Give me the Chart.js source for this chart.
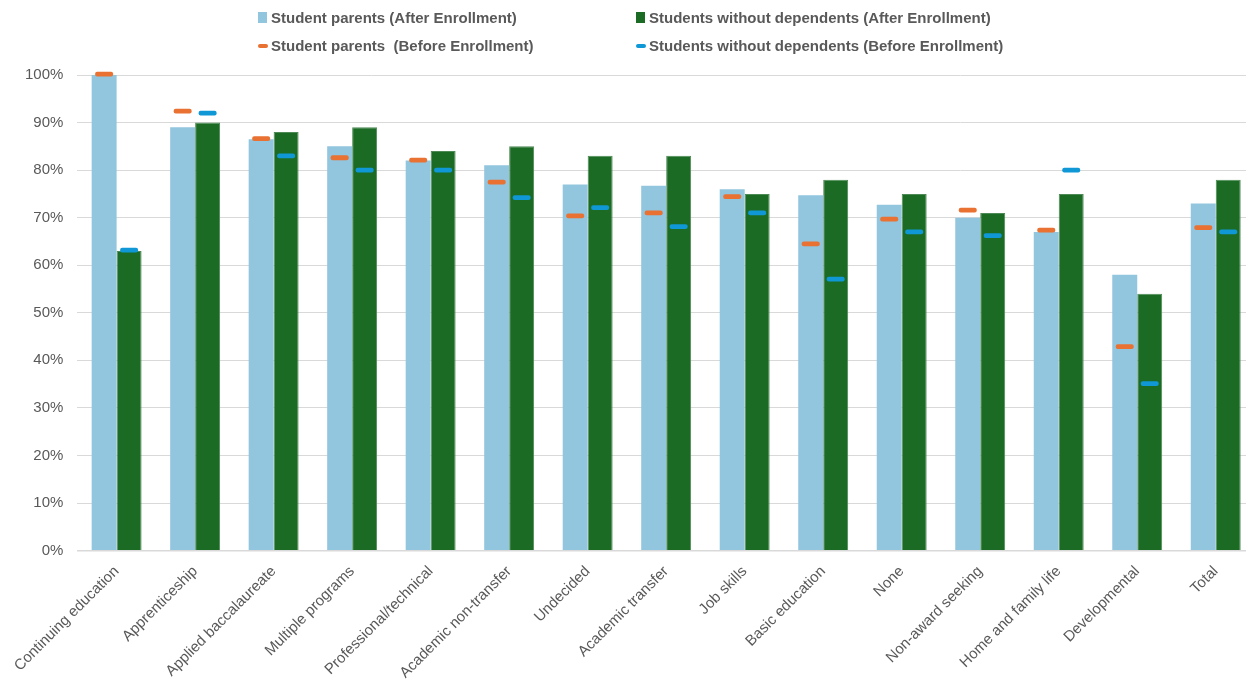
<!DOCTYPE html>
<html>
<head>
<meta charset="utf-8">
<script src="https://cdn.jsdelivr.net/npm/chart.js@4"></script>
<style>
  html, body { margin: 0; padding: 0; background: #fff; overflow: hidden; }
  #wrap { position: relative; width: 1262px; height: 684px; }
  .legend { position: absolute; font-family: "Liberation Sans Narrow", "Arial Narrow", "Liberation Sans", sans-serif; font-weight: bold; font-size: 15px; color: #595959; white-space: nowrap; }
  .legend span.box { position: absolute; left: 0; }
  .legend span.txt { position: absolute; left: 13px; top: -9px; }
</style>
</head>
<body>
<div id="wrap">
  <canvas id="myChart"></canvas>
  <div class="legend" style="left:258px;top:18px"><span class="box" style="top:-6px;width:9px;height:11px;background:#92C5DE"></span><span class="txt">Student parents (After Enrollment)</span></div>
  <div class="legend" style="left:636px;top:18px"><span class="box" style="top:-6px;width:9px;height:11px;background:#1B6B25"></span><span class="txt">Students without dependents (After Enrollment)</span></div>
  <div class="legend" style="left:258px;top:46px"><span class="box" style="top:-2px;width:10px;height:4px;border-radius:2px;background:#E97132"></span><span class="txt">Student parents &nbsp;(Before Enrollment)</span></div>
  <div class="legend" style="left:636px;top:46px"><span class="box" style="top:-2px;width:10px;height:4px;border-radius:2px;background:#1097D5"></span><span class="txt">Students without dependents (Before Enrollment)</span></div>
</div>
<script>
var categories = ['Continuing education', 'Apprenticeship', 'Applied baccalaureate', 'Multiple programs',
  'Professional/technical', 'Academic non-transfer', 'Undecided', 'Academic transfer', 'Job skills',
  'Basic education', 'None', 'Non-award seeking', 'Home and family life', 'Developmental', 'Total'];

var parentsAfter  = [100, 89, 86.5, 85, 82, 81, 77, 76.7, 76, 74.7, 72.7, 70, 67, 58, 73];
var noDepAfter    = [63, 90, 88, 89, 84, 85, 83, 83, 75, 78, 75, 71, 75, 54, 78];
var parentsBefore = [100.2, 92.4, 86.6, 82.6, 82.1, 77.5, 70.4, 71, 74.4, 64.5, 69.7, 71.6, 67.4, 42.9, 67.9];
var noDepBefore   = [63.2, 92, 83, 80, 80, 74.2, 72.1, 68.1, 71, 57.1, 67, 66.2, 80, 35.1, 67];

var yTicks = [0, 10, 20, 30, 40, 50, 60, 70, 80, 90, 100];

// markers are drawn as short floating bars around the value
function dash(arr) {
  return arr.map(function (v) { return [v - 0.5, v + 0.5]; });
}

var ctx = document.getElementById('myChart').getContext('2d');
var chart = new Chart(ctx, {
  type: 'bar',
  data: {
    labels: categories,
    datasets: [{
      label: 'Student parents (After Enrollment)',
      backgroundColor: '#92C5DE',
      data: parentsAfter,
      stack: 'parents',
      order: 2
    }, {
      label: 'Students without dependents (After Enrollment)',
      backgroundColor: '#1B6B25',
      borderColor: '#4E8A55',
      borderWidth: 1,
      data: noDepAfter,
      stack: 'nodep',
      order: 2
    }, {
      label: 'Student parents  (Before Enrollment)',
      backgroundColor: '#E97132',
      data: dash(parentsBefore),
      stack: 'parents',
      barPercentage: 0.72,
      borderRadius: 2,
      borderSkipped: false,
      clip: false,
      order: 1
    }, {
      label: 'Students without dependents (Before Enrollment)',
      backgroundColor: '#1097D5',
      data: dash(noDepBefore),
      stack: 'nodep',
      barPercentage: 0.72,
      borderRadius: 2,
      borderSkipped: false,
      clip: false,
      order: 1
    }]
  },
  options: {
    responsive: true,
    maintainAspectRatio: false,
    animation: false,
    datasets: {
      bar: { categoryPercentage: 0.636, barPercentage: 1 }
    },
    layout: { padding: { top: 75, left: 11, right: 7, bottom: -10 } },
    plugins: {
      legend: { display: false },
      tooltip: { enabled: false }
    },
    scales: {
      x: {
        grid: { display: false, drawTicks: false },
        border: { color: '#d9d9d9', width: 1.5 },
        ticks: {
          color: '#595959',
          font: { family: 'Liberation Sans, Arial, sans-serif', size: 15 },
          minRotation: 45,
          maxRotation: 45,
          autoSkip: false,
          padding: 12
        }
      },
      y: {
        stacked: false,
        min: 0,
        max: 100,
        afterBuildTicks: function (axis) {
          axis.ticks = yTicks.map(function (v) { return { value: v }; });
        },
        grid: { color: '#d9d9d9', drawTicks: false, lineWidth: 1 },
        border: { display: false },
        ticks: {
          color: '#595959',
          font: { family: 'Liberation Sans, Arial, sans-serif', size: 15 },
          padding: 14,
          callback: function (v) { return v + '%'; }
        }
      }
    }
  }
});
</script>
</body>
</html>
